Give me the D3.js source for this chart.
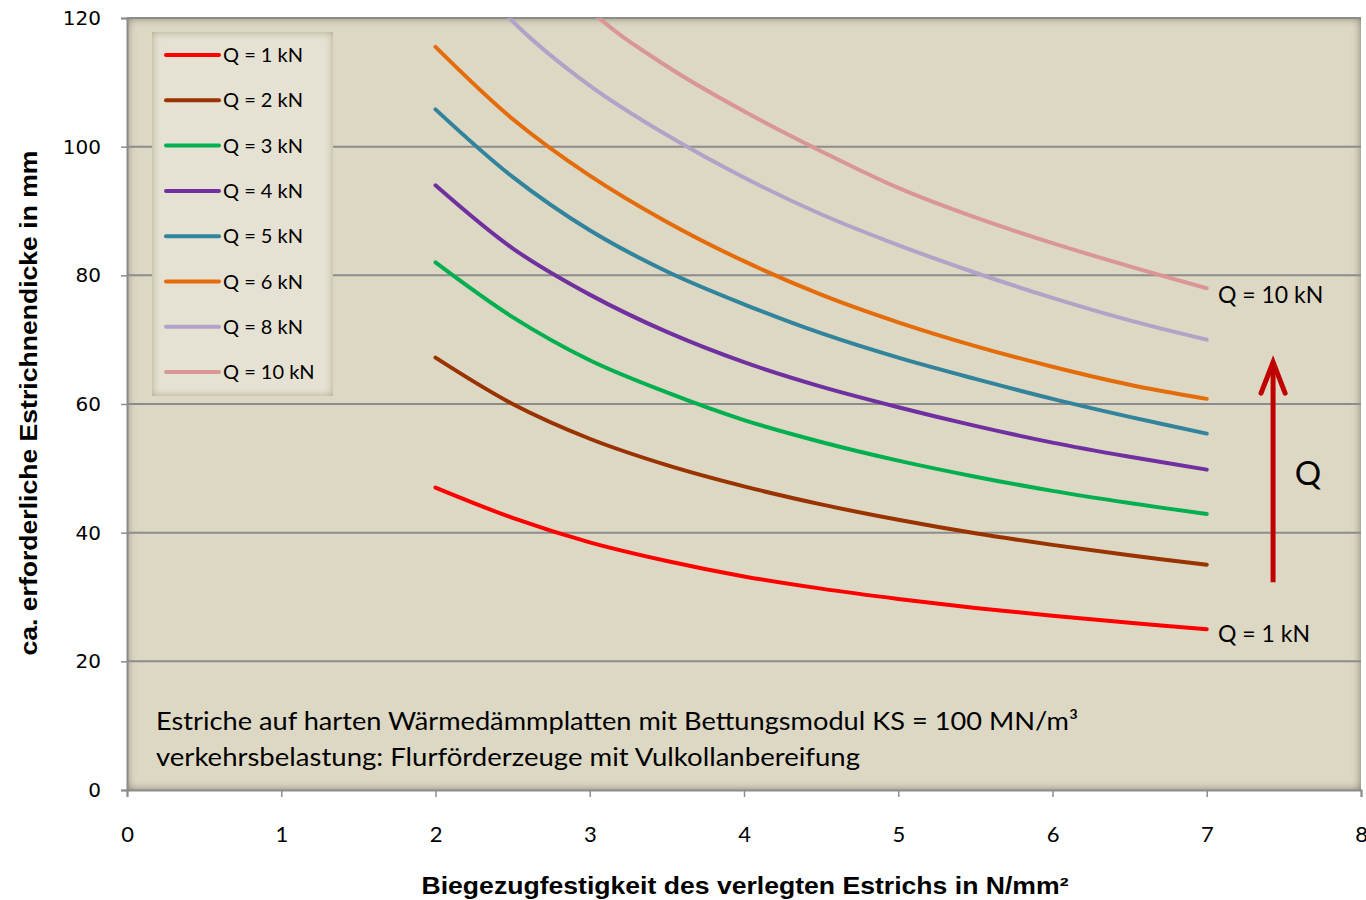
<!DOCTYPE html>
<html>
<head>
<meta charset="utf-8">
<script src="https://cdn.jsdelivr.net/npm/d3@7/dist/d3.min.js"></script>
<style>
  body { margin: 0; background: #fff; }
  svg { display: block; }
</style>
</head>
<body>
<svg id="chart" width="1366" height="900"></svg>
<script>
const svg = d3.select('#chart')

// Biegezugfestigkeit (N/mm²)
const festigkeit = [2, 2.5, 3, 3.5, 4, 4.5, 5, 5.5, 6, 6.5, 7]

// ca. erforderliche Estrichdicke in mm
const q1 = [47, 42.3, 38.5, 35.6, 33.2, 31.3, 29.7, 28.3, 27.1, 26, 25]
const q2 = [67.2, 60, 54.6, 50.5, 47.2, 44.4, 42, 39.9, 38.1, 36.5, 35]
const q3 = [82, 73.5, 66.8, 61.8, 57.5, 54.1, 51.2, 48.7, 46.5, 44.6, 42.9]
const q4 = [94, 84.2, 77, 71.2, 66.5, 62.7, 59.5, 56.6, 54, 51.8, 49.8]
const q5 = [105.8, 95.3, 87, 80.6, 75.5, 71, 67.2, 63.9, 60.8, 58, 55.4]
const q6 = [115.5, 104.3, 95.5, 88.3, 82.2, 77, 72.7, 69, 65.8, 63, 60.8]
const q8 = [134, 119.5, 109.5, 101.8, 95.2, 89.5, 84.7, 80.4, 76.5, 73, 70]
const q10 = [156, 136, 121.3, 112.5, 105.5, 99.3, 93.6, 89, 85, 81.4, 78]

const seriesNames = ['Q = 1 kN', 'Q = 2 kN', 'Q = 3 kN', 'Q = 4 kN', 'Q = 5 kN', 'Q = 6 kN', 'Q = 8 kN', 'Q = 10 kN']
const seriesValues = [q1, q2, q3, q4, q5, q6, q8, q10]
const seriesColors = ['#ff0000', '#993300', '#00b050', '#7030a0', '#31849b', '#e46c0a', '#b3a2c7', '#d99694']

const xTicks = [0, 1, 2, 3, 4, 5, 6, 7, 8]
const yTicks = [0, 20, 40, 60, 80, 100, 120]

const plotLeft = 127, plotRight = 1361, plotTop = 18, plotBottom = 790

const x = d3.scaleLinear().domain([0, 8]).range([plotLeft, plotRight])
const y = d3.scaleLinear().domain([0, 120]).range([plotBottom, plotTop])

// inner shadow filter for plot area + legend
const defs = svg.append('defs')
function innerShadow(id, blur, col) {
  const f = defs.append('filter').attr('id', id)
    .attr('x', '-5%').attr('y', '-5%').attr('width', '110%').attr('height', '110%')
  f.append('feFlood').attr('flood-color', col).attr('result', 'c')
  f.append('feComposite').attr('in', 'c').attr('in2', 'SourceAlpha').attr('operator', 'out').attr('result', 'inv')
  f.append('feGaussianBlur').attr('in', 'inv').attr('stdDeviation', blur).attr('result', 'bl')
  f.append('feComposite').attr('in', 'bl').attr('in2', 'SourceAlpha').attr('operator', 'in').attr('result', 'sh')
  const m = f.append('feMerge')
  m.append('feMergeNode').attr('in', 'SourceGraphic')
  m.append('feMergeNode').attr('in', 'sh')
}
innerShadow('plotShadow', 5, '#55554a')
innerShadow('legShadow', 4, '#a8a27a')

defs.append('clipPath').attr('id', 'plotClip')
  .append('rect').attr('x', plotLeft).attr('y', plotTop).attr('width', plotRight - plotLeft).attr('height', plotBottom - plotTop)

// plot background
svg.append('rect')
  .attr('x', plotLeft).attr('y', plotTop).attr('width', plotRight - plotLeft).attr('height', plotBottom - plotTop)
  .attr('fill', '#ddd8c4')
  .attr('filter', 'url(#plotShadow)')

// grid
svg.append('g')
  .selectAll('line')
  .data(yTicks.filter(d => d > 0))
  .join('line')
    .attr('x1', plotLeft).attr('x2', plotRight)
    .attr('y1', d => y(d)).attr('y2', d => y(d))
    .attr('stroke', '#8c8c8c').attr('stroke-width', 2)

// axes
const yAxis = svg.append('g')
  .attr('transform', 'translate(' + plotLeft + ',0)')
  .call(d3.axisLeft(y).tickValues(yTicks).tickSize(6).tickPadding(20))
const xAxis = svg.append('g')
  .attr('transform', 'translate(0,' + plotBottom + ')')
  .call(d3.axisBottom(x).tickValues(xTicks).tickSize(7).tickPadding(29))
yAxis.select('.domain').attr('stroke', '#8c8c8c').attr('stroke-width', 2)
xAxis.select('.domain').attr('stroke', '#8c8c8c').attr('stroke-width', 2)
svg.selectAll('.tick line').attr('stroke', '#8c8c8c').attr('stroke-width', 1.5)
yAxis.selectAll('text').attr('font-family', 'DejaVu Sans').attr('font-size', 20).attr('fill', '#000')
xAxis.selectAll('text').attr('font-family', 'Lato').attr('font-size', 22).attr('fill', '#000')

// curves
const line = d3.line()
  .x((d, i) => x(festigkeit[i]))
  .y(d => y(d))
  .curve(d3.curveCatmullRom.alpha(0.5))

svg.append('g')
  .attr('clip-path', 'url(#plotClip)')
  .selectAll('path')
  .data(seriesValues)
  .join('path')
    .attr('d', line)
    .attr('fill', 'none')
    .attr('stroke', (d, i) => seriesColors[i])
    .attr('stroke-width', 4)
    .attr('stroke-linecap', 'round')

// legend
const leg = svg.append('g')
leg.append('rect')
  .attr('x', 152).attr('y', 32).attr('width', 181).attr('height', 364)
  .attr('fill', '#e5e2d3')
  .attr('filter', 'url(#legShadow)')
const legItem = leg.selectAll('.item')
  .data(seriesNames)
  .join('g')
    .attr('class', 'item')
    .attr('transform', (d, i) => 'translate(0,' + (55 + i * 45.3) + ')')
legItem.append('line')
  .attr('x1', 166).attr('x2', 219)
  .attr('stroke', (d, i) => seriesColors[i])
  .attr('stroke-width', 4).attr('stroke-linecap', 'round')
legItem.append('text')
  .attr('x', 223).attr('y', 7)
  .attr('font-family', 'Lato').attr('font-size', 20)
  .text(d => d)

// end labels
svg.append('text')
  .attr('x', 1218).attr('y', 303)
  .attr('font-family', 'Lato').attr('font-size', 23)
  .text(seriesNames[7])
svg.append('text')
  .attr('x', 1218).attr('y', 642)
  .attr('font-family', 'Lato').attr('font-size', 23)
  .text(seriesNames[0])

// arrow Q
const ax = x(7.43)
svg.append('line')
  .attr('x1', ax).attr('x2', ax)
  .attr('y1', y(32.3)).attr('y2', y(66.5))
  .attr('stroke', '#c00000').attr('stroke-width', 5)
svg.append('path')
  .attr('d', 'M' + (ax - 12) + ',' + (y(66.5) + 31) + 'L' + ax + ',' + y(66.5) + 'L' + (ax + 12) + ',' + (y(66.5) + 31))
  .attr('fill', 'none').attr('stroke', '#c00000').attr('stroke-width', 5)
  .attr('stroke-linecap', 'round').attr('stroke-linejoin', 'miter')
svg.append('text')
  .attr('x', 1308).attr('y', 485)
  .attr('text-anchor', 'middle')
  .attr('font-family', 'Lato').attr('font-size', 33)
  .text('Q')

// notes
svg.append('text')
  .attr('x', 156).attr('y', 730)
  .attr('font-family', 'Lato').attr('font-size', 25)
  .attr('textLength', 922).attr('lengthAdjust', 'spacingAndGlyphs')
  .text('Estriche auf harten Wärmedämmplatten mit Bettungsmodul KS = 100 MN/m³')
svg.append('text')
  .attr('x', 156).attr('y', 766)
  .attr('font-family', 'Lato').attr('font-size', 25)
  .attr('textLength', 704).attr('lengthAdjust', 'spacingAndGlyphs')
  .text('verkehrsbelastung: Flurförderzeuge mit Vulkollanbereifung')

// axis titles
svg.append('text')
  .attr('transform', 'translate(37,403) rotate(-90)')
  .attr('text-anchor', 'middle')
  .attr('font-family', 'Liberation Sans').attr('font-weight', 'bold').attr('font-size', 23)
  .attr('textLength', 505).attr('lengthAdjust', 'spacingAndGlyphs')
  .text('ca. erforderliche Estrichnendicke in mm')
svg.append('text')
  .attr('x', 745).attr('y', 894)
  .attr('text-anchor', 'middle')
  .attr('font-family', 'Liberation Sans').attr('font-weight', 'bold').attr('font-size', 23)
  .attr('textLength', 647).attr('lengthAdjust', 'spacingAndGlyphs')
  .text('Biegezugfestigkeit des verlegten Estrichs in N/mm²')
</script>
</body>
</html>
